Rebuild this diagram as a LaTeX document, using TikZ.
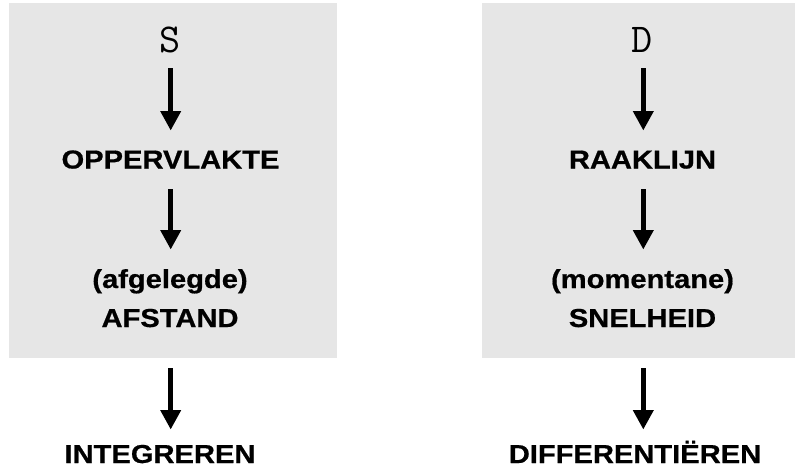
\documentclass[tikz,border=0pt]{standalone}
\usepackage{fontspec}
\setmainfont{Liberation Sans}
\newfontfamily\lblfont[FakeStretch=1.12,BoldFeatures={FakeBold=0.6}]{Liberation Sans}
\usetikzlibrary{arrows.meta}
\definecolor{boxgray}{RGB}{230,230,230}
\tikzset{
  panel/.style={fill=boxgray, draw=none, inner sep=0pt},
  lbl/.style={inner sep=0pt, anchor=base, text height=18.6pt, text depth=0pt,
    font=\lblfont\fontsize{26pt}{26pt}\selectfont\bfseries},
  sym/.style={inner sep=0pt, anchor=base, text height=24pt, text depth=0pt,
    font=\ttfamily\fontsize{41pt}{41pt}\selectfont},
  arr/.style={line width=5pt, -{Triangle[length=19pt 0 0,width=21pt 0 0,line width=0pt]}}
}
\begin{document}
\begin{tikzpicture}[x=1pt,y=-1pt]
\useasboundingbox (0,0) rectangle (795,468);
% panels
\node[panel, minimum width=328pt, minimum height=355pt] (boxL) at (173,180.5) {};
\node[panel, minimum width=313pt, minimum height=355pt] (boxR) at (638.5,180.5) {};
% left column
\node[sym] (S) at (170,52.5) {S};
\node[lbl] (opp) at (170.5,168.5) {OPPERVLAKTE};
\node[lbl] (afg) at (170,288) {(afgelegde)};
\node[lbl] (afs) at (170,327) {AFSTAND};
\node[lbl] (int) at (160,463) {INTEGREREN};
% right column
\node[sym] (D) at (642,52.5) {D};
\node[lbl] (raak) at (642.5,168.5) {RAAKLIJN};
\node[lbl] (mom) at (642.5,288) {(momentane)};
\node[lbl] (snel) at (642.5,327) {SNELHEID};
\node[lbl] (diff) at (635,463) {DIFFERENTIËREN};
% connectors
\coordinate (Lx) at (170.7,0);
\coordinate (Rx) at (643.3,0);
\draw[arr, shorten <=15.5pt, shorten >=19.5pt] (S.south -| Lx) -- (opp.north -| Lx);
\draw[arr, shorten <=20.5pt, shorten >=20pt] (opp.south -| Lx) -- (afg.north -| Lx);
\draw[arr, shorten <=10pt, shorten >=15pt] (boxL.south -| Lx) -- (int.north -| Lx);
\draw[arr, shorten <=15.5pt, shorten >=19.5pt] (D.south -| Rx) -- (raak.north -| Rx);
\draw[arr, shorten <=20.5pt, shorten >=20pt] (raak.south -| Rx) -- (mom.north -| Rx);
\draw[arr, shorten <=10pt, shorten >=15pt] (boxR.south -| Rx) -- (diff.north -| Rx);
\end{tikzpicture}
\end{document}
